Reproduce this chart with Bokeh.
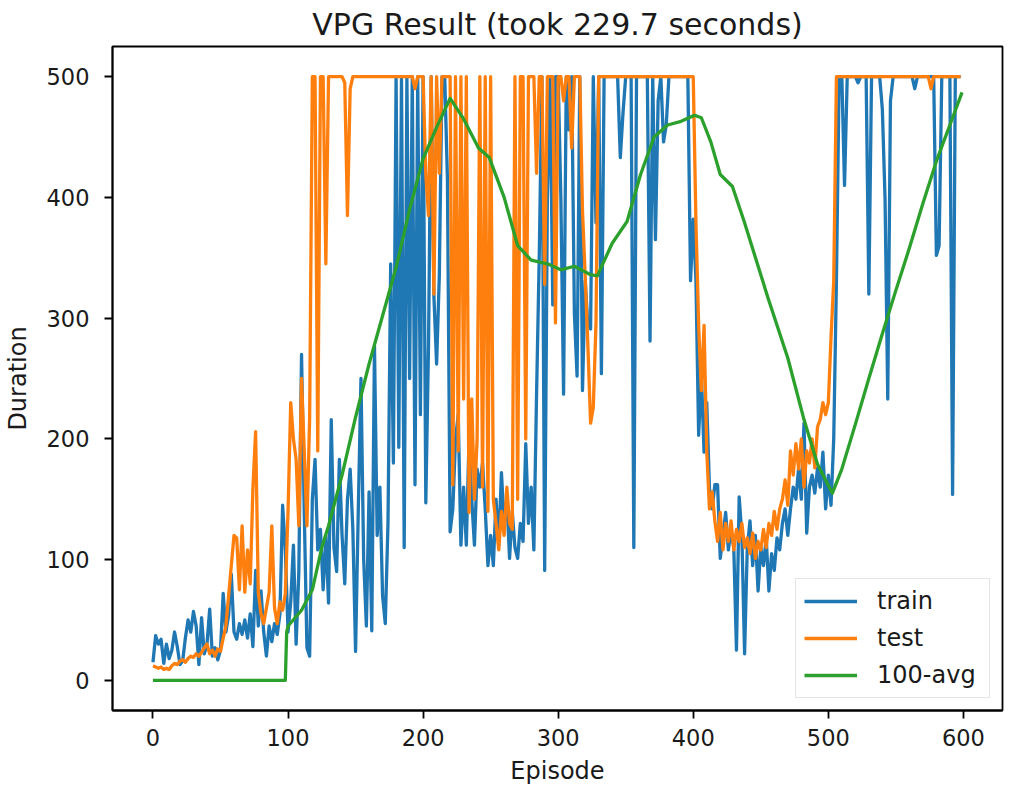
from bokeh.plotting import figure
from bokeh.models import Range1d, FixedTicker, Legend, LegendItem
from bokeh.embed import file_html
from bokeh.resources import INLINE

# Episodes sampled every 2 episodes
episodes = list(range(0, 600, 2))

train = [
    15, 37, 30, 34, 14, 30, 18, 25, 40, 28,
    13, 16, 35, 50, 40, 57, 45, 13, 52, 22,
    30, 59, 20, 27, 17, 25, 72, 40, 54, 88,
    40, 34, 47, 38, 50, 35, 55, 28, 91, 45,
    74, 40, 20, 45, 32, 47, 38, 55, 145, 108,
    40, 65, 112, 30, 90, 270, 140, 27, 20, 150,
    183, 108, 125, 75, 120, 64, 216, 110, 90, 183,
    120, 80, 150, 175, 125, 24, 140, 250, 100, 45,
    156, 41, 277, 120, 160, 70, 47, 130, 345, 180,
    500, 193, 500, 110, 500, 250, 500, 162, 500, 220,
    500, 147, 277, 500, 318, 262, 335, 500, 500, 416,
    123, 142, 200, 220, 112, 160, 112, 200, 150, 112,
    175, 160, 180, 142, 95, 120, 95, 150, 112, 172,
    130, 150, 101, 140, 110, 101, 130, 115, 196, 130,
    160, 108, 237, 352, 500, 91, 400, 500, 311, 500,
    500, 399, 237, 500, 456, 500, 304, 252, 500, 240,
    331, 294, 291, 500, 379, 500, 254, 500, 500, 500,
    500, 500, 500, 433, 470, 500, 500, 500, 110, 500,
    500, 500, 500, 500, 281, 500, 365, 480, 500, 446,
    460, 500, 500, 500, 500, 500, 500, 500, 500, 331,
    382, 331, 203, 254, 189, 230, 159, 142, 162, 162,
    101, 120, 139, 108, 125, 110, 25, 152, 120, 22,
    110, 132, 95, 120, 74, 110, 95, 118, 74, 105,
    91, 118, 108, 130, 142, 120, 142, 160, 150, 176,
    150, 213, 122, 160, 170, 155, 176, 160, 189, 142,
    170, 145, 200, 331, 500, 500, 410, 500, 500, 500,
    500, 495, 500, 500, 500, 320, 500, 500, 500, 500,
    473, 399, 233, 480, 500, 500, 500, 500, 500, 500,
    500, 500, 490, 500, 500, 500, 500, 500, 500, 500,
    352, 360, 500, 500, 500, 500, 154, 500, 500, 500,
]

test = [
    12, 11, 10, 11, 9, 10, 9, 12, 14, 13,
    16, 17, 15, 18, 20, 19, 22, 20, 23, 27,
    30, 22, 25, 20, 26, 24, 35, 45, 70, 95,
    120, 118, 75, 128, 73, 108, 80, 159, 206, 73,
    55, 47, 60, 73, 128, 60, 47, 65, 58, 72,
    140, 230, 200, 183, 128, 250, 190, 128, 217, 500,
    500, 190, 500, 500, 345, 500, 500, 500, 500, 500,
    500, 495, 385, 490, 500, 500, 500, 500, 500, 500,
    500, 500, 500, 500, 500, 500, 500, 500, 500, 500,
    500, 500, 500, 500, 500, 500, 500, 490, 500, 500,
    500, 419, 385, 500, 320, 500, 420, 500, 500, 500,
    500, 162, 500, 190, 500, 233, 500, 139, 233, 150,
    200, 500, 160, 500, 140, 500, 150, 130, 108, 140,
    120, 160, 130, 125, 500, 150, 500, 500, 200, 500,
    500, 500, 420, 500, 500, 328, 500, 500, 500, 296,
    500, 500, 480, 500, 500, 441, 500, 500, 500, 389,
    335, 277, 213, 226, 296, 500, 500, 500, 500, 500,
    500, 500, 500, 500, 500, 500, 500, 500, 500, 500,
    500, 500, 500, 500, 500, 500, 500, 500, 500, 500,
    500, 500, 500, 500, 500, 500, 500, 500, 500, 500,
    500, 379, 294, 240, 294, 190, 142, 156, 132, 115,
    139, 108, 130, 115, 132, 108, 125, 115, 130, 110,
    118, 105, 122, 101, 115, 108, 125, 110, 130, 120,
    140, 125, 142, 150, 166, 145, 190, 170, 196, 175,
    200, 160, 190, 180, 200, 176, 210, 216, 230, 220,
    230, 284, 331, 500, 500, 500, 500, 500, 500, 500,
    500, 500, 500, 500, 500, 500, 500, 500, 500, 500,
    500, 500, 500, 500, 500, 500, 500, 500, 500, 500,
    500, 500, 500, 500, 500, 500, 500, 500, 490, 500,
    500, 500, 500, 500, 500, 500, 500, 500, 500, 500,
]

avg_episodes = [0, 98, 99, 100, 110, 118, 125, 130, 140, 150, 160, 170, 180, 190,
                200, 210, 220, 230, 241, 249, 260, 270, 280, 292, 302, 312, 324,
                329, 340, 351, 361, 371, 381, 391, 401, 406, 413, 420, 429, 438,
                455, 470, 482, 492, 503, 510, 520, 530, 540, 550, 560, 570, 580,
                590, 599]
avg_values = [0, 0, 40, 45, 58, 75, 110, 128, 170, 218, 262, 302, 342, 390,
              432, 458, 482, 465, 441, 433, 400, 360, 348, 345, 340, 343, 336,
              335, 362, 380, 419, 450, 460, 463, 468, 466, 446, 419, 409, 379,
              318, 267, 216, 179, 155, 175, 212, 250, 287, 323, 358, 395, 430,
              460, 487]

x_ticks = [0, 100, 200, 300, 400, 500, 600]
y_ticks = [0, 100, 200, 300, 400, 500]
title_text = "VPG Result (took 229.7 seconds)"

FONT = "DejaVu Sans"
TXT = "#1a1a1a"

p = figure(width=1016, height=796, output_backend="svg", toolbar_location=None,
           x_range=Range1d(-29.95, 628.95), y_range=Range1d(-25, 525),
           min_border_left=111, min_border_right=14, min_border_top=46,
           min_border_bottom=86)

p.title.text = title_text
p.title.align = "center"
p.title.vertical_align = "top"
p.title.standoff = 6
p.title.text_font = FONT
p.title.text_font_size = "30px"
p.title.text_font_style = "normal"
p.title.text_color = TXT

p.background_fill_color = "white"
p.border_fill_color = "white"
p.grid.visible = False
p.outline_line_color = "black"
p.outline_line_width = 1.8
p.outline_line_alpha = 1.0

for ax in (p.xaxis[0], p.yaxis[0]):
    ax.axis_line_width = 1.8
    ax.axis_line_color = "black"
    ax.major_tick_out = 8
    ax.major_tick_in = 0
    ax.major_tick_line_width = 1.8
    ax.major_tick_line_color = "black"
    ax.minor_tick_line_color = None
    ax.major_label_text_font = FONT
    ax.major_label_text_font_size = "22.5px"
    ax.major_label_text_color = TXT
    ax.axis_label_text_font = FONT
    ax.axis_label_text_font_size = "24px"
    ax.axis_label_text_font_style = "normal"
    ax.axis_label_text_color = TXT

p.xaxis.ticker = FixedTicker(ticks=x_ticks)
p.yaxis.ticker = FixedTicker(ticks=y_ticks)
p.xaxis.axis_label = "Episode"
p.yaxis.axis_label = "Duration"
p.xaxis.major_label_standoff = 10
p.xaxis.axis_label_standoff = 8
p.yaxis.major_label_standoff = 15
p.yaxis.axis_label_standoff = 12

r_train = p.line(episodes, train, line_color="#1f77b4", line_width=3.3, line_join="round")
r_test = p.line(episodes, test, line_color="#ff7f0e", line_width=3.3, line_join="round")
r_avg = p.line(avg_episodes, avg_values, line_color="#2ca02c", line_width=3.3, line_join="round")

legend = Legend(items=[LegendItem(label="train", renderers=[r_train]),
                       LegendItem(label="test", renderers=[r_test]),
                       LegendItem(label="100-avg", renderers=[r_avg])],
                location="bottom_right")
legend.margin = 12
legend.padding = 8
legend.spacing = 9
legend.glyph_width = 53
legend.glyph_height = 26
legend.label_height = 26
legend.label_width = 104
legend.label_standoff = 20
legend.label_text_font = FONT
legend.label_text_font_size = "24px"
legend.label_text_color = TXT
legend.border_line_color = "#cccccc"
legend.border_line_width = 1.5
legend.background_fill_alpha = 0.8
p.add_layout(legend)

open("out.html", "w").write(file_html(p, INLINE))
